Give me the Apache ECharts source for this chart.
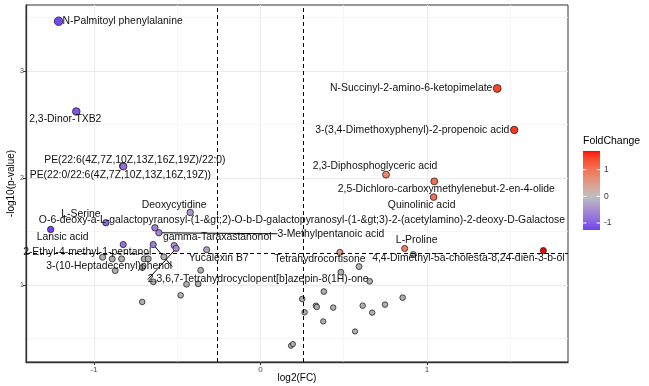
<!DOCTYPE html>
<html>
<head>
<meta charset="utf-8">
<title>Volcano plot</title>
<script src="https://cdn.jsdelivr.net/npm/echarts@6/dist/echarts.min.js"></script>
<style>
html, body { margin: 0; padding: 0; background: #fff; }
#volcano { width: 649px; height: 386px; }
</style>
</head>
<body>
<div id="volcano"></div>
<script>
'use strict';

//significant metabolites (labelled)
var sigNames = [
    'N-Palmitoyl phenylalanine',
    '2,3-Dinor-TXB2',
    'PE(22:6(4Z,7Z,10Z,13Z,16Z,19Z)/22:0)',
    'PE(22:0/22:6(4Z,7Z,10Z,13Z,16Z,19Z))',
    'N-Succinyl-2-amino-6-ketopimelate',
    '3-(3,4-Dimethoxyphenyl)-2-propenoic acid',
    '2,3-Diphosphoglyceric acid',
    '2,5-Dichloro-carboxymethylenebut-2-en-4-olide',
    'Quinolinic acid',
    'O-6-deoxy-a-L-galactopyranosyl-(1-&gt;2)-O-b-D-galactopyranosyl-(1-&gt;3)-2-(acetylamino)-2-deoxy-D-Galactose',
    'L-Serine',
    'Deoxycytidine',
    'Lansic acid',
    '3-Methylpentanoic acid',
    'gamma-Taraxastanonol',
    '2-Ethyl-4-methyl-1-pentanol',
    '3-(10-Heptadecenyl)phenol',
    '2,3,6,7-Tetrahydrocyclopent[b]azepin-8(1H)-one',
    'Yucalexin B7',
    'Tetrahydrocortisone',
    'L-Proline',
    '4,4-Dimethyl-5a-cholesta-8,24-dien-3-b-ol'
];
var sigFC = [-1.212, -1.106, -0.826, -0.823, 1.422, 1.524, 0.754, 1.044, 1.040, -0.634, -0.928,
    -0.422, -1.260, -0.610, -0.518, -0.824, -0.644, -0.506, -0.323, 0.477, 0.866, 1.699];
var sigLogP = [3.467, 2.623, 2.113, 2.108, 2.838, 2.450, 2.032, 1.969, 1.822, 1.535, 1.582,
    1.678, 1.519, 1.488, 1.369, 1.378, 1.378, 1.341, 1.329, 1.305, 1.341, 1.322];

//not significant metabolites
var nsFC = [-0.948, -0.890, -0.834, -0.872, -0.698, -0.674, -0.709, -0.580, -0.643, -0.359, -0.444,
    -0.374, -0.479, -0.710, 0.592, 0.483, 0.656, 0.381, 0.251, 0.333, 0.338, 0.437, 0.265, 0.377,
    0.614, 0.671, 0.748, 0.568, 0.183, 0.195, 0.918, 0.854];
var nsLogP = [1.259, 1.244, 1.244, 1.134, 1.244, 1.244, 1.163, 1.263, 1.029, 1.137, 1.006,
    1.010, 0.903, 0.841, 1.172, 1.119, 1.034, 0.938, 0.869, 0.806, 0.794, 0.788, 0.744, 0.659,
    0.806, 0.741, 0.816, 0.565, 0.431, 0.447, 1.285, 0.881];

var xTicks = [-1, 0, 1];
var xMinorTicks = [-0.5, 0.5, 1.5];
var yTicks = [1, 2, 3];
var yMinorTicks = [0.5, 1.5, 2.5, 3.5];
var legendTicks = [1, 0, -1];

//cut-offs: log2(1.2) and -log10(0.05)
var fcCut = 0.263;
var pCut = 1.301;

//where each label sits relative to its point (px), like ggrepel did it
var labelShift = {
    'N-Palmitoyl phenylalanine': [64, 0],
    '2,3-Dinor-TXB2': [-11, 8],
    'PE(22:6(4Z,7Z,10Z,13Z,16Z,19Z)/22:0)': [12, -6],
    'PE(22:0/22:6(4Z,7Z,10Z,13Z,16Z,19Z))': [-3, 9],
    'N-Succinyl-2-amino-6-ketopimelate': [-86, 0],
    '3-(3,4-Dimethoxyphenyl)-2-propenoic acid': [-102, 0],
    '2,3-Diphosphoglyceric acid': [-11, -8],
    '2,5-Dichloro-carboxymethylenebut-2-en-4-olide': [12, 8],
    'Quinolinic acid': [-12, 8],
    'O-6-deoxy-a-L-galactopyranosyl-(1-&gt;2)-O-b-D-galactopyranosyl-(1-&gt;3)-2-(acetylamino)-2-deoxy-D-Galactose': [147, -8],
    'L-Serine': [-25, -9],
    'Deoxycytidine': [-16, -7],
    'Lansic acid': [12, 8],
    '3-Methylpentanoic acid': [172, 1],
    'gamma-Taraxastanonol': [43, -8],
    '2-Ethyl-4-methyl-1-pentanol': [-36, 8],
    '3-(10-Heptadecenyl)phenol': [-44, 22],
    '2,3,6,7-Tetrahydrocyclopent[b]azepin-8(1H)-one': [82, 31],
    'Yucalexin B7': [12, 8],
    'Tetrahydrocortisone': [-20, 7],
    'L-Proline': [12, -8],
    '4,4-Dimethyl-5a-cholesta-8,24-dien-3-b-ol': [-75, 8]
};
//labels that got a segment
var withSegment = ['3-Methylpentanoic acid', '3-(10-Heptadecenyl)phenol', '2,3,6,7-Tetrahydrocyclopent[b]azepin-8(1H)-one'];

//scale_colour_gradient2 mixes in Lab space, echarts mixes rgb, so build many stops
function hexToRgb(hex) {
    var n = parseInt(hex.slice(1), 16);
    return [(n >> 16) & 255, (n >> 8) & 255, n & 255];
}
function rgbToLab(rgb) {
    var lin = rgb.map(function (c) {
        c = c / 255;
        return c <= 0.04045 ? c / 12.92 : Math.pow((c + 0.055) / 1.055, 2.4);
    });
    var X = (0.4124 * lin[0] + 0.3576 * lin[1] + 0.1805 * lin[2]) / 0.95047;
    var Y = 0.2126 * lin[0] + 0.7152 * lin[1] + 0.0722 * lin[2];
    var Z = (0.0193 * lin[0] + 0.1192 * lin[1] + 0.9505 * lin[2]) / 1.08883;
    var f = function (t) { return t > 0.008856 ? Math.cbrt(t) : 7.787 * t + 16 / 116; };
    var fx = f(X), fy = f(Y), fz = f(Z);
    return [116 * fy - 16, 500 * (fx - fy), 200 * (fy - fz)];
}
function labToRgb(lab) {
    var fy = (lab[0] + 16) / 116, fx = fy + lab[1] / 500, fz = fy - lab[2] / 200;
    var inv = function (t) { return t * t * t > 0.008856 ? t * t * t : (t - 16 / 116) / 7.787; };
    var X = inv(fx) * 0.95047, Y = inv(fy), Z = inv(fz) * 1.08883;
    var rgb = [
        3.2406 * X - 1.5372 * Y - 0.4986 * Z,
        -0.9689 * X + 1.8758 * Y + 0.0415 * Z,
        0.0557 * X - 0.2040 * Y + 1.0570 * Z
    ];
    return 'rgb(' + rgb.map(function (c) {
        c = c <= 0.0031308 ? 12.92 * c : 1.055 * Math.pow(c, 1 / 2.4) - 0.055;
        return Math.round(Math.min(1, Math.max(0, c)) * 255);
    }).join(',') + ')';
}
var labLow = rgbToLab(hexToRgb('#0000FF'));
var labMid = rgbToLab(hexToRgb('#BEBEBE'));
var labHigh = rgbToLab(hexToRgb('#FF0000'));

var fcMin = Math.min.apply(null, sigFC);
var fcMax = Math.max.apply(null, sigFC);
var fcAbs = Math.max(Math.abs(fcMin), Math.abs(fcMax));

function gradient2(v) {
    var t = Math.min(1, Math.abs(v) / fcAbs);
    var end = v < 0 ? labLow : labHigh;
    return labToRgb([0, 1, 2].map(function (k) { return labMid[k] + (end[k] - labMid[k]) * t; }));
}
var colorStops = [];
for (var i = 0; i <= 40; i++) {
    colorStops.push(gradient2(fcMin + (fcMax - fcMin) * i / 40));
}

//ggplot default 5% expansion
function expand(arr) {
    var lo = Math.min.apply(null, arr), hi = Math.max.apply(null, arr);
    var pad = (hi - lo) * 0.05;
    return [lo - pad, hi + pad];
}
var xLim = expand(sigFC.concat(nsFC));
var yLim = expand(sigLogP.concat(nsLogP));

function pointSize(val) {
    return 4.6 + 1.15 * val[1];
}

//legend bar geometry
var bar = { left: 583, top: 151, width: 17, height: 79 };
var fontFam = 'Liberation Sans, Arial, sans-serif';

function renderChart() {
    var sigData = sigNames.map(function (name, i) {
        var item = { name: name, value: [sigFC[i], sigLogP[i]] };
        if (withSegment.indexOf(name) > -1) {
            item.labelLine = { show: true };
        }
        return item;
    });
    var nsData = nsFC.map(function (x, i) {
        return [x, nsLogP[i]];
    });

    //colourbar drawn by hand, top = high
    var barStops = colorStops.slice().reverse().map(function (c, k, arr) {
        return { offset: k / (arr.length - 1), color: c };
    });
    var legendGraphics = [{
        type: 'text',
        x: bar.left, y: bar.top - 4,
        style: { text: 'FoldChange', fontSize: 10.5, fill: '#000', verticalAlign: 'bottom', fontFamily: fontFam }
    }, {
        type: 'rect',
        shape: { x: bar.left, y: bar.top, width: bar.width, height: bar.height },
        style: {
            fill: { type: 'linear', x: 0, y: 0, x2: 0, y2: 1, colorStops: barStops }
        }
    }];
    legendTicks.forEach(function (v) {
        var y = bar.top + (fcMax - v) / (fcMax - fcMin) * bar.height;
        legendGraphics.push({
            type: 'line', z: 100,
            shape: { x1: bar.left, y1: y, x2: bar.left + 3.4, y2: y },
            style: { stroke: '#fff', lineWidth: 1 }
        }, {
            type: 'line', z: 100,
            shape: { x1: bar.left + bar.width - 3.4, y1: y, x2: bar.left + bar.width, y2: y },
            style: { stroke: '#fff', lineWidth: 1 }
        }, {
            type: 'text', z: 100,
            x: bar.left + bar.width + 4, y: y,
            style: { text: String(v), fontSize: 8.5, fill: '#333', verticalAlign: 'middle', fontFamily: fontFam }
        });
    });

    var option = {
        backgroundColor: '#fff',
        animation: false,
        textStyle: { fontFamily: fontFam },
        grid: {
            left: 26, right: 81, top: 5, bottom: 24,
            outerBoundsMode: 'none',
            containLabel: false,
            show: true, borderColor: '#333', borderWidth: 1
        },
        xAxis: [{
            type: 'value',
            min: xLim[0], max: xLim[1],
            name: 'log2(FC)',
            nameLocation: 'middle',
            nameGap: 11,
            nameMoveOverlap: false,
            nameTextStyle: { fontSize: 10, color: '#000' },
            axisLine: { show: true, onZero: false, lineStyle: { color: '#333', width: 1.3 } },
            axisTick: { show: true, length: 3, customValues: xTicks, lineStyle: { color: '#333' } },
            axisLabel: { customValues: xTicks, fontSize: 8, color: '#4D4D4D', margin: 4 },
            splitLine: { show: true, lineStyle: { color: '#EBEBEB', width: 1 } }
        }, {
            type: 'value',
            position: 'top',
            min: xLim[0], max: xLim[1],
            axisLine: { show: false },
            axisTick: { show: false, customValues: xMinorTicks },
            axisLabel: { show: false },
            splitLine: { show: true, lineStyle: { color: '#F4F4F4', width: 0.8 } }
        }],
        yAxis: [{
            type: 'value',
            min: yLim[0], max: yLim[1],
            name: '-log10(p-value)',
            nameLocation: 'middle',
            nameGap: 10,
            nameMoveOverlap: false,
            nameTextStyle: { fontSize: 10, color: '#000' },
            axisLine: { show: true, onZero: false, lineStyle: { color: '#333', width: 1.3 } },
            axisTick: { show: true, length: 3, customValues: yTicks, lineStyle: { color: '#333' } },
            axisLabel: { customValues: yTicks, fontSize: 7, color: '#4D4D4D', margin: 2 },
            splitLine: { show: true, lineStyle: { color: '#EBEBEB', width: 1 } }
        }, {
            type: 'value',
            position: 'right',
            min: yLim[0], max: yLim[1],
            axisLine: { show: false },
            axisTick: { show: false, customValues: yMinorTicks },
            axisLabel: { show: false },
            splitLine: { show: true, lineStyle: { color: '#F4F4F4', width: 0.8 } }
        }],
        visualMap: {
            type: 'continuous',
            show: false,
            seriesIndex: 1,
            dimension: 0,
            min: fcMin,
            max: fcMax,
            inRange: { color: colorStops }
        },
        graphic: legendGraphics,
        series: [{
            name: 'ns',
            type: 'scatter',
            data: nsData,
            symbolSize: pointSize,
            itemStyle: { color: '#B0B0B0', borderColor: '#222', borderWidth: 0.8, opacity: 1 },
            markLine: {
                silent: true,
                symbol: 'none',
                label: { show: false },
                lineStyle: { color: '#000', type: [4, 3], width: 1 },
                data: [{ xAxis: -fcCut }, { xAxis: fcCut }, { yAxis: pCut }]
            }
        }, {
            name: 'sig',
            type: 'scatter',
            data: sigData,
            symbolSize: pointSize,
            itemStyle: { borderColor: '#222', borderWidth: 0.8, opacity: 1 },
            label: {
                show: true,
                position: 'inside',
                formatter: '{b}',
                fontSize: 10.4,
                color: '#111'
            },
            labelLine: { show: false, lineStyle: { color: '#000', width: 1 } },
            labelLayout: function (params) {
                var shift = labelShift[sigNames[params.dataIndex]] || [0, 0];
                return { dx: shift[0], dy: shift[1] };
            }
        }]
    };

    var myChart = echarts.init(document.querySelector('#volcano'));
    myChart.setOption(option);
}

renderChart();
</script>
</body>
</html>
